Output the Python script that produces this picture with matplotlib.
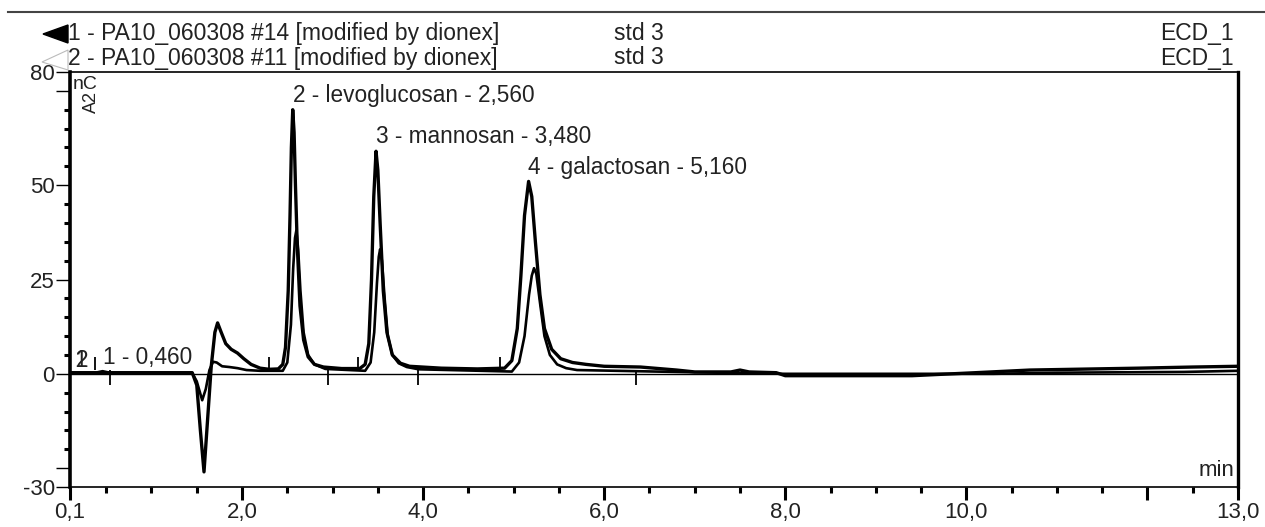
import matplotlib
matplotlib.use("Agg")
from matplotlib import pyplot as plt
from matplotlib.patches import Polygon
import numpy as np

plt.rcParams['font.family'] = ['Liberation Sans', 'DejaVu Sans']

# trace 1 - PA10_060308 #14 (time in min, signal in nC)
t1 = [0.10, 0.40, 0.46, 0.52, 1.00, 1.45, 1.50, 1.54, 1.58, 1.62, 1.66, 1.70, 1.73,
      1.77, 1.82, 1.88, 1.95, 2.02, 2.10, 2.20, 2.30, 2.40, 2.45, 2.48, 2.51, 2.53,
      2.545, 2.56, 2.575, 2.59, 2.61, 2.64, 2.68, 2.73, 2.80, 2.90, 3.10, 3.30, 3.36,
      3.40, 3.43, 3.455, 3.48, 3.50, 3.525, 3.56, 3.60, 3.66, 3.75, 3.85, 4.20, 4.60,
      4.90, 4.98, 5.04, 5.08, 5.12, 5.165, 5.20, 5.24, 5.29, 5.34, 5.42, 5.52, 5.65,
      5.80, 6.00, 6.40, 6.80, 7.00, 7.40, 7.50, 7.60, 7.90, 8.00, 9.40, 10.10, 10.70,
      11.90, 12.50, 13.00]
y1 = [0.3, 0.3, 0.6, 0.3, 0.3, 0.3, -3, -15, -26, -12, 2, 11, 13.5,
      11, 8, 6.5, 5.5, 4, 2.5, 1.5, 1.2, 1.3, 2.5, 7, 22, 42,
      60, 70, 64, 50, 34, 18, 9, 4.5, 2.5, 1.8, 1.4, 1.4, 2.5,
      8, 25, 47, 59, 54, 40, 22, 11, 5, 2.8, 2, 1.5, 1.3,
      1.5, 3.5, 12, 26, 42, 51, 47, 35, 21, 12, 6.5, 4, 3,
      2.5, 2.0, 1.8, 1.0, 0.5, 0.5, 1.0, 0.5, 0.3, -0.5, -0.5, 0.3, 1.0,
      1.5, 1.8, 2.0]

# trace 2 - PA10_060308 #11
t2 = [0.10, 1.45, 1.50, 1.56, 1.60, 1.64, 1.68, 1.72, 1.78, 1.86, 1.95, 2.05, 2.20,
      2.45, 2.50, 2.54, 2.565, 2.585, 2.60, 2.62, 2.645, 2.68, 2.73, 2.80, 2.92, 3.36,
      3.42, 3.46, 3.49, 3.51, 3.525, 3.545, 3.575, 3.61, 3.66, 3.73, 3.82, 3.95, 4.98,
      5.06, 5.12, 5.17, 5.20, 5.225, 5.25, 5.29, 5.34, 5.40, 5.48, 5.58, 5.70, 7.00,
      8.00, 10.30, 11.00, 12.40, 13.00]
y2 = [0.2, 0.2, -2, -7, -4, 1, 3.2, 3, 2, 1.8, 1.5, 1.0, 0.8,
      0.8, 3, 13, 28, 36, 38, 33, 22, 11, 5, 2.5, 1.3, 0.8,
      3, 11, 24, 31, 33, 30, 20, 10, 5, 2.8, 1.8, 1.2, 0.6,
      3, 10, 21, 26, 28, 26.5, 19, 10, 5, 2.5, 1.5, 1.0, 0.4,
      0.0, 0.0, 0.3, 0.5, 0.8]

# peak labels
peak_names = ['1 - 0,460', '2 - levoglucosan - 2,560', '3 - mannosan - 3,480', '4 - galactosan - 5,160']
peak_times = [0.46, 2.56, 3.48, 5.16]
peak_tops = [0.6, 70, 59, 51]

# integration delimiters
start_marks = [0.38, 2.30, 3.28, 4.85]
end_marks = [0.54, 2.95, 3.94, 6.35]

xticks = [0.1, 2, 4, 6, 8, 10, 12, 13]
xlabels = ['0,1', '2,0', '4,0', '6,0', '8,0', '10,0', '', '13,0']
yticks = [-30, -25, 0, 25, 50, 75, 80]
ylabels = ['-30', '', '0', '25', '50', '', '80']

txt = '#222222'
fs = 16.3

fig = plt.figure(figsize=(12.65, 5.27), dpi=100)
ax = fig.add_axes([70 / 1265, 1 - 487 / 527, (1238 - 70) / 1265, (487 - 72) / 527])

ax.axhline(0, color='black', lw=1.0, zorder=1)
ax.plot(t2, y2, color='black', lw=1.9, zorder=3)
ax.plot(t1, y1, color='black', lw=2.4, zorder=4)

ax.vlines(start_marks, 1, 4.5, color='black', lw=1.3)
ax.vlines(end_marks, -3, 1, color='black', lw=1.3)

for name, tx, top in zip(peak_names, peak_times, peak_tops):
    ax.annotate(name, (tx, top), xytext=(0, 2), textcoords='offset points',
                ha='left', va='bottom', fontsize=fs, color=txt)

# overlapping peak numbers at the start of the run
ax.annotate('1', (0.1, 0), xytext=(3, 1), textcoords='offset points',
            ha='left', va='bottom', fontsize=fs, color=txt)
ax.annotate('2', (0.1, 0), xytext=(4, 1), textcoords='offset points',
            ha='left', va='bottom', fontsize=fs, color=txt)

ax.set_xlim(0.1, 13.0)
ax.set_ylim(-30, 80)

ax.set_xticks(xticks)
ax.set_xticklabels(xlabels)
ax.set_xticks(np.arange(0.5, 13.0, 0.5), minor=True)
ax.set_yticks(yticks)
ax.set_yticklabels(ylabels)
ax.set_yticks(np.arange(-30, 81, 5), minor=True)

ax.tick_params(axis='x', which='major', direction='out', length=9, width=2.2,
               pad=2, labelsize=16, labelcolor=txt)
ax.tick_params(axis='x', which='minor', direction='out', length=4, width=2.2)
ax.tick_params(axis='y', which='major', direction='out', length=10, width=1.0,
               pad=1, labelsize=16, labelcolor=txt)
ax.tick_params(axis='y', which='minor', direction='out', length=4, width=2.2)

ax.spines['left'].set_linewidth(2.6)
ax.spines['right'].set_linewidth(2.4)
ax.spines['bottom'].set_linewidth(1.2)
ax.spines['top'].set_linewidth(1.2)

ax.text(0.002, 0.99, 'nC', transform=ax.transAxes, ha='left', va='top',
        fontsize=14, color=txt)
ax.text(0.011, 0.955, 'A2', transform=ax.transAxes, ha='left', va='top',
        fontsize=13, color=txt, rotation=90)
ax.text(0.997, 0.015, 'min', transform=ax.transAxes, ha='right', va='bottom',
        fontsize=16, color=txt)

# header block
fig.add_artist(plt.Line2D([8 / 1265, 1.0], [1 - 12 / 527, 1 - 12 / 527],
                          color='#444444', lw=1.5))
fig.add_artist(Polygon([[43 / 1265, 1 - 34 / 527], [68 / 1265, 1 - 25 / 527],
                        [68 / 1265, 1 - 43 / 527]], closed=True,
                       facecolor='black', edgecolor='black'))
fig.add_artist(Polygon([[42 / 1265, 1 - 62 / 527], [68 / 1265, 1 - 50 / 527],
                        [68 / 1265, 1 - 70 / 527]], closed=True,
                       facecolor='none', edgecolor='#bbbbbb', lw=0.8))

headers = ['1 - PA10_060308 #14 [modified by dionex]',
           '2 - PA10_060308 #11 [modified by dionex]']
samples = ['std 3', 'std 3']
channels = ['ECD_1', 'ECD_1']
rows_y = [1 - 34 / 527, 1 - 58 / 527]
for head, samp, chan, yy in zip(headers, samples, channels, rows_y):
    fig.text(68 / 1265, yy, head, ha='left', va='center', fontsize=16.5, color=txt)
    fig.text(614 / 1265, yy, samp, ha='left', va='center', fontsize=16.5, color=txt)
    fig.text(1234 / 1265, yy, chan, ha='right', va='center', fontsize=16.5, color=txt)

fig.savefig('out.png', dpi=100)
